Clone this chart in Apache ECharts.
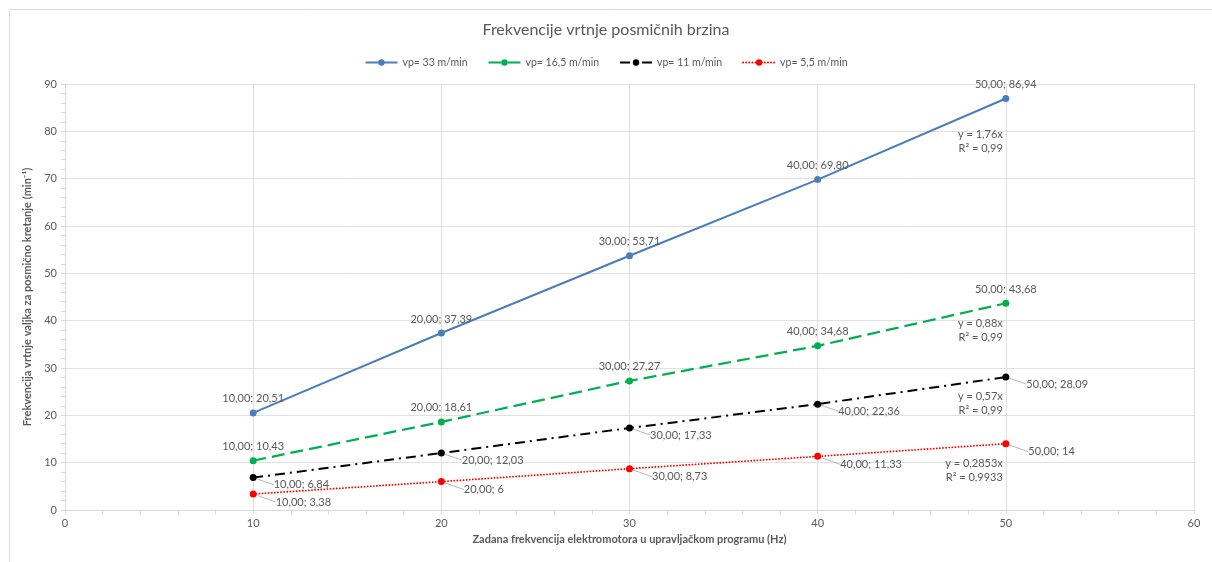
<!DOCTYPE html>
<html>
<head>
<meta charset="utf-8">
<script src="https://cdn.jsdelivr.net/npm/echarts@6/dist/echarts.min.js"></script>
<style>html,body{margin:0;padding:0;background:#fff}#c{width:1212px;height:562px}</style>
</head>
<body>
<div id="c"></div>
<script>
const xValues = [10, 20, 30, 40, 50];
const seriesNames = ['vp= 33 m/min', 'vp= 16,5 m/min', 'vp= 11 m/min', 'vp= 5,5 m/min'];
const v33 = [20.51, 37.39, 53.71, 69.80, 86.94];
const v165 = [10.43, 18.61, 27.27, 34.68, 43.68];
const v11 = [6.84, 12.03, 17.33, 22.36, 28.09];
const v55 = [3.38, 6, 8.73, 11.33, 14];
const trendEquations = ['y = 1,76x\nR² = 0,99', 'y = 0,88x\nR² = 0,99', 'y = 0,57x\nR² = 0,99', 'y = 0,2853x\nR² = 0,9933'];
const labelDecimals = [2, 2, 2, null];
const xTicks = [0, 60, 10];
const yTicks = [0, 90, 10];

const FONT = 'Lato, "Noto Sans", sans-serif';
const GREY = '#595959';
const colors = ['#4a7ebb', '#00b050', '#000000', '#ff0000'];
const lineTypes = ['solid', [13, 6], [10, 5, 2, 5], [0.1, 3]];
const lineWidths = [2, 2.25, 2, 1.8];
const lineCaps = ['butt', 'butt', 'butt', 'round'];
const allData = [v33, v165, v11, v55];

function fmtNum(v, d) {
  const s = d == null ? String(v) : v.toFixed(d);
  return s.replace('.', ',');
}

const series = allData.map((vals, i) => {
  const above = i < 2;
  const s = {
    name: seriesNames[i],
    type: 'line',
    data: xValues.map((x, j) => [x, vals[j]]),
    symbol: 'circle',
    symbolSize: 7,
    itemStyle: { color: colors[i] },
    lineStyle: { color: colors[i], width: lineWidths[i], type: lineTypes[i], cap: lineCaps[i] },
    label: {
      show: true,
      position: above ? 'top' : 'right',
      distance: 5,
      color: GREY,
      fontFamily: FONT,
      fontSize: 11,
      formatter: p => fmtNum(p.value[0], 2) + '; ' + fmtNum(p.value[1], labelDecimals[i])
    },
    emphasis: { disabled: true },
    animation: false,
    z: 10 - i
  };
  if (!above) {
    s.labelLayout = { dx: i === 2 ? 12 : 14, dy: i === 2 ? 7 : 8 };
    s.labelLine = { show: true, lineStyle: { color: '#a6a6a6', width: 0.8 } };
  }
  return s;
});

const chart = echarts.init(document.getElementById('c'), null, { renderer: 'canvas' });
const option = {
  backgroundColor: '#fff',
  animation: false,
  title: {
    text: 'Frekvencije vrtnje posmičnih brzina',
    left: 'center',
    top: 17,
    textStyle: { fontFamily: FONT, fontSize: 16, fontWeight: 'normal', color: GREY }
  },
  legend: {
    top: 52,
    left: 'center',
    itemWidth: 32,
    itemHeight: 8,
    itemGap: 20,
    textStyle: { fontFamily: FONT, fontSize: 10.5, color: GREY },
    data: seriesNames
  },
  grid: { left: 65, right: 18, top: 84, bottom: 52 },
  xAxis: {
    type: 'value',
    min: xTicks[0], max: xTicks[1], interval: xTicks[2],
    name: 'Zadana frekvencija elektromotora u upravljačkom programu (Hz)',
    nameLocation: 'middle',
    nameGap: 24,
    nameTextStyle: { fontFamily: FONT, fontSize: 11, fontWeight: 'bold', color: GREY },
    axisLine: { lineStyle: { color: '#d9d9d9' } },
    axisTick: { show: true, length: 4, lineStyle: { color: '#d9d9d9' } },
    minorTick: { show: true, splitNumber: 5, length: 4, lineStyle: { color: '#d9d9d9' } },
    axisLabel: { fontFamily: FONT, fontSize: 11, color: GREY, margin: 8 },
    splitLine: { show: true, lineStyle: { color: '#e0e0e0' } }
  },
  yAxis: {
    type: 'value',
    min: yTicks[0], max: yTicks[1], interval: yTicks[2],
    name: 'Frekvencija vrtnje valjka za posmično kretanje (min⁻¹)',
    nameLocation: 'middle',
    nameGap: 20,
    nameTextStyle: { fontFamily: FONT, fontSize: 11, fontWeight: 'bold', color: GREY },
    axisLine: { show: true, lineStyle: { color: '#d9d9d9' } },
    axisTick: { show: true, length: 4, lineStyle: { color: '#d9d9d9' } },
    minorTick: { show: true, splitNumber: 5, length: 4, lineStyle: { color: '#d9d9d9' } },
    axisLabel: { fontFamily: FONT, fontSize: 11, color: GREY, margin: 8 },
    splitLine: { show: true, lineStyle: { color: '#e0e0e0' } }
  },
  series: series
};
chart.setOption(option);

// trendline equation boxes placed relative to the last point of each series
const eqDy = [29, 13, 12, 13];
const graphics = [{
  type: 'rect', left: 7, top: 7, silent: true,
  shape: { width: 1220, height: 570 },
  style: { fill: 'none', stroke: '#d9d9d9', lineWidth: 1 }
}];
allData.forEach((vals, i) => {
  const last = xValues.length - 1;
  const p = chart.convertToPixel({ gridIndex: 0 }, [xValues[last], vals[last]]);
  graphics.push({
    type: 'text',
    x: p[0] - 3,
    y: p[1] + eqDy[i],
    silent: true,
    style: {
      text: trendEquations[i],
      fill: GREY,
      font: '11px ' + FONT,
      textAlign: 'right',
      textVerticalAlign: 'top',
      lineHeight: 14
    }
  });
});
chart.setOption({ graphic: graphics });
</script>
</body>
</html>
